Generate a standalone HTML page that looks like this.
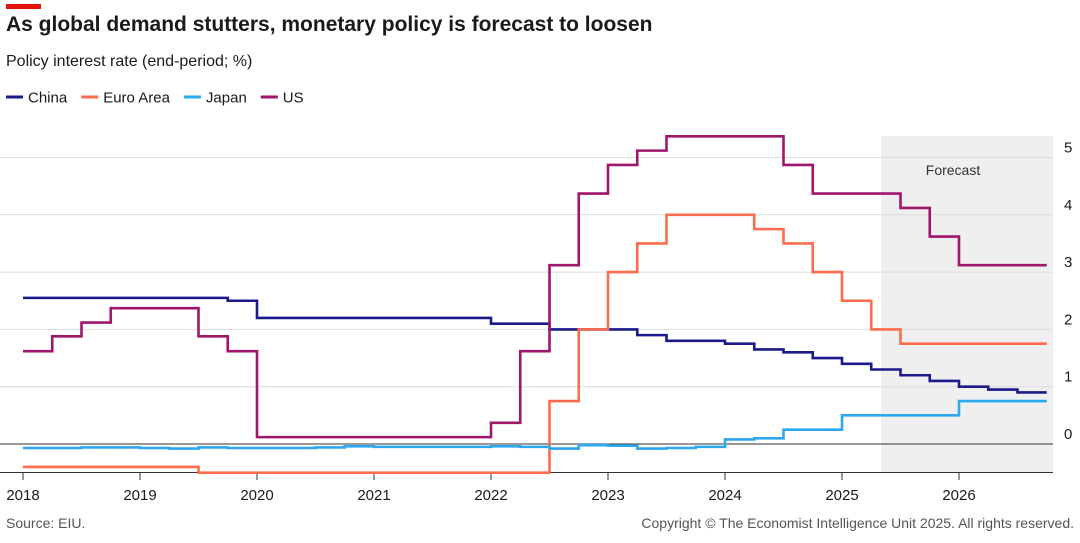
<!DOCTYPE html>
<html><head><meta charset="utf-8"><style>
body{margin:0;width:1080px;height:543px;background:#fff;font-family:"Liberation Sans",sans-serif;overflow:hidden;position:relative}
.t{position:absolute;white-space:nowrap;color:#1a1a1a}
</style></head><body>
<div style="position:absolute;left:6px;top:4px;width:35px;height:5px;background:#e3120b"></div>
<div class="t" style="left:6px;top:13px;font-size:21px;font-weight:bold">As global demand stutters, monetary policy is forecast to loosen</div>
<div class="t" style="left:6px;top:53px;font-size:16px">Policy interest rate (end-period; %)</div>
<svg id="c" width="1080" height="543" style="position:absolute;left:0;top:0"></svg>
<div class="t" style="left:6px;top:515px;font-size:14px;color:#555">Source: EIU.</div>
<div class="t" style="right:6px;top:515px;font-size:14px;color:#555">Copyright © The Economist Intelligence Unit 2025. All rights reserved.</div>
<script>
const years=[2018,2019,2020,2021,2022,2023,2024,2025,2026];
const yTicks=[0,1,2,3,4,5];
const seriesNames=["China","Euro Area","Japan","US"];
const seriesColors=["#1a1a8c","#ff6b4d","#2ba8f0","#a0166a"];
const china=[2.55,2.55,2.55,2.55,2.55,2.55,2.55,2.5,2.2,2.2,2.2,2.2,2.2,2.2,2.2,2.2,2.1,2.1,2.0,2.0,2.0,1.9,1.8,1.8,1.75,1.65,1.6,1.5,1.4,1.3,1.2,1.1,1.0,0.95,0.9];
const euro=[-0.4,-0.4,-0.4,-0.4,-0.4,-0.4,-0.5,-0.5,-0.5,-0.5,-0.5,-0.5,-0.5,-0.5,-0.5,-0.5,-0.5,-0.5,0.75,2.0,3.0,3.5,4.0,4.0,4.0,3.75,3.5,3.0,2.5,2.0,1.75,1.75,1.75,1.75,1.75];
const japan=[-0.07,-0.07,-0.06,-0.06,-0.07,-0.08,-0.06,-0.07,-0.07,-0.07,-0.06,-0.04,-0.05,-0.05,-0.05,-0.05,-0.04,-0.05,-0.08,-0.02,-0.03,-0.08,-0.07,-0.05,0.08,0.1,0.25,0.25,0.5,0.5,0.5,0.5,0.75,0.75,0.75];
const us=[1.62,1.88,2.12,2.37,2.37,2.37,1.88,1.62,0.12,0.12,0.12,0.12,0.12,0.12,0.12,0.12,0.37,1.62,3.12,4.37,4.87,5.12,5.37,5.37,5.37,5.37,4.87,4.37,4.37,4.37,4.12,3.62,3.12,3.12,3.12];
const forecastStartQ=29.3;
const allSeries=[china,euro,japan,us];
const NS="http://www.w3.org/2000/svg",svg=document.getElementById('c');
const x=q=>23+q*29.25, y=v=>444-v*57.3;
function mk(t,a){const e=document.createElementNS(NS,t);for(const k in a)e.setAttribute(k,a[k]);svg.appendChild(e);return e;}
let r=mk('rect',{x:x(forecastStartQ)+1,y:136,width:1053-x(forecastStartQ)-1,height:336,fill:'#efefef'});


let ft=mk('text',{x:953,y:175,'font-size':14,'text-anchor':'middle',fill:'#333'});ft.textContent='Forecast';


yTicks.forEach(v=>{
 let l=mk('line',{x1:0,x2:1053,y1:y(v),y2:y(v),stroke:v===0?'#333':'#ddd','stroke-width':1});
 
 
 let t=mk('text',{x:1064,y:y(v)-5,'font-size':15,fill:'#1a1a1a'});t.textContent=v;
 
 
});
mk('line',{x1:0,x2:1053,y1:472.5,y2:472.5,stroke:'#333','stroke-width':1});
years.forEach((yr,i)=>{
 let xx=x(i*4);
 mk('line',{x1:xx,x2:xx,y1:472,y2:480,stroke:'#333'});
 let t=mk('text',{x:xx,y:500,'font-size':15,'text-anchor':'middle',fill:'#1a1a1a'});t.textContent=yr;
 
 
});
allSeries.forEach((s,k)=>{
 let d='M'+x(0)+','+y(s[0]);
 s.forEach((v,i)=>{ if(i>0) d+='V'+y(v); d+='H'+x(i+1); });
 let p=mk('path',{d:d,fill:'none',stroke:seriesColors[k],'stroke-width':2.6});
 
 
});
let lx=6;
seriesNames.forEach((n,k)=>{
 let l=mk('line',{x1:lx,x2:lx+17,y1:97,y2:97,stroke:seriesColors[k],'stroke-width':3});
 
 
 let t=mk('text',{x:lx+22,y:102.5,'font-size':15,fill:'#1a1a1a'});t.textContent=n;
 
 
 lx+=22+t.getComputedTextLength()+14;
});
</script>
</body></html>
